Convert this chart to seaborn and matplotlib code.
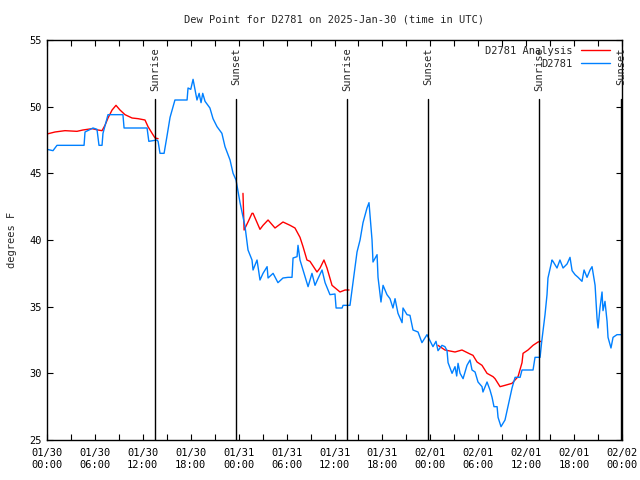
import numpy as np
import pandas as pd
import seaborn as sns
import matplotlib.pyplot as plt
import matplotlib.dates as mdates

start = pd.Timestamp("2025-01-30 00:00")

# hours since start, dew point (F) for the station
obs_hours = [0.0, 0.75, 1.25, 4.64, 4.76, 5.76, 6.26, 6.51, 6.89, 7.01, 7.64, 9.51, 9.65, 12.53,
             12.75, 13.77, 13.91, 14.15, 14.66, 15.0, 15.41, 16.02, 17.54, 17.66, 18.0, 18.29,
             18.78, 19.05, 19.29, 19.5, 19.79, 20.4, 20.79, 21.29, 21.9, 22.29, 22.92, 23.3,
             23.67, 24.17, 24.8, 25.05, 25.17, 25.67, 25.8, 26.3, 26.67, 27.05, 27.56, 27.68,
             28.31, 28.92, 29.55, 30.18, 30.68, 30.81, 31.31, 31.43, 31.68, 32.06, 32.55, 32.69,
             33.18, 33.56, 33.93, 34.44, 34.82, 35.43, 36.06, 36.2, 36.95, 37.07, 37.94, 38.19,
             38.57, 38.82, 39.2, 39.57, 40.07, 40.32, 40.7, 40.82, 41.33, 41.45, 41.82, 42.08,
             42.57, 42.95, 43.32, 43.58, 43.95, 44.46, 44.58, 45.08, 45.45, 45.83, 46.46, 46.95,
             47.58, 47.96, 48.33, 48.71, 48.96, 49.46, 49.83, 50.09, 50.22, 50.72, 51.09, 51.3,
             51.47, 51.72, 52.1, 52.59, 52.97, 53.22, 53.6, 53.97, 54.47, 54.59, 55.1, 55.47,
             55.73, 55.97, 56.36, 56.48, 56.85, 57.35, 57.72, 58.23, 58.61, 59.24, 59.48, 60.86,
             61.11, 61.74, 61.95, 62.36, 62.61, 62.73, 63.24, 63.36, 63.86, 64.23, 64.62, 65.12,
             65.49, 65.75, 66.12, 66.5, 66.99, 67.25, 67.62, 68.0, 68.25, 68.63, 68.87, 69.0,
             69.24, 69.5, 69.62, 69.87, 70.13, 70.25, 70.62, 70.88, 71.37, 72.0]
obs_dew = [46.8, 46.7, 47.1, 47.1, 48.1, 48.4, 48.3, 47.1, 47.1, 48.0, 49.4, 49.4, 48.4, 48.4,
           47.4, 47.5, 47.4, 46.5, 46.5, 47.7, 49.2, 50.5, 50.5, 51.4, 51.3, 52.05,
           50.5, 51.0, 50.3, 51.0, 50.4, 49.9, 49.1, 48.5, 48.0, 47.0, 46.0, 45.0,
           44.5, 42.8, 41.0, 39.8, 39.25, 38.5, 37.75, 38.5, 37.0, 37.5, 38.0, 37.15,
           37.5, 36.8, 37.15, 37.2, 37.2, 38.65, 38.75, 39.6, 38.5, 37.75, 36.8, 36.5,
           37.5, 36.6, 37.1, 37.75, 36.8, 35.9, 35.95, 34.9, 34.9, 35.1, 35.1, 36.25,
           38.0, 39.1, 40.0, 41.3, 42.4, 42.8, 40.0, 38.35, 38.9, 37.2, 35.35, 36.6,
           35.9, 35.6, 34.9, 35.6, 34.5, 33.8, 34.9, 34.4, 34.35, 33.25, 33.1, 32.3,
           32.9, 32.45, 32.0, 32.4, 31.7, 32.1, 32.0, 31.7, 30.8, 30.0, 30.5, 29.8,
           30.75, 30.0, 29.6, 30.6, 31.0, 30.25, 30.1, 29.35, 29.0, 28.6, 29.35, 28.75,
           28.2, 27.5, 27.5, 26.7, 26.0, 26.5, 27.5, 28.9, 29.7, 29.7, 30.25, 30.25,
           31.2, 31.2, 32.4, 34.4, 35.9, 37.15, 38.5, 38.4, 37.9, 38.5, 37.9, 38.2,
           38.7, 37.7, 37.4, 37.2, 36.9, 37.75, 37.2, 37.75, 38.0, 36.6, 34.15, 33.4,
           34.9, 36.1, 34.7, 35.4, 33.9, 32.7, 31.9, 32.7, 32.9, 32.9]

# analysis series, three pieces
ana_hours = [0.0, 1.0, 2.25, 3.75, 4.5, 5.64, 6.39, 6.89, 7.26, 7.64, 8.15, 8.64, 9.14, 9.77,
             10.65, 11.4, 12.27, 12.65, 13.16, 13.53, 13.91,
             24.54, 24.68, 25.17, 25.67, 25.8, 26.67, 27.05, 27.68, 28.55, 29.55, 30.44, 31.05,
             31.68, 32.06, 32.55, 32.93, 33.81, 34.19, 34.68, 35.06, 35.69, 36.69, 37.32, 37.82,
             48.96, 49.83, 51.09, 51.96, 52.97, 53.34, 53.85, 54.47, 55.1, 55.85, 56.1, 56.73,
             57.35, 58.23, 58.98, 59.48, 59.61, 60.23, 60.86, 61.49, 61.86]
ana_dew = [47.95, 48.1, 48.2, 48.15, 48.25, 48.35, 48.25, 48.2, 48.6, 49.15, 49.75, 50.1, 49.75, 49.4,
           49.15, 49.1, 49.0, 48.5, 48.0, 47.65, 47.6,
           43.5, 40.75, 41.35, 42.0, 42.0, 40.8, 41.1, 41.5, 40.9, 41.35, 41.1, 40.9,
           40.2, 39.5, 38.5, 38.4, 37.6, 37.9, 38.5, 37.9, 36.6, 36.1, 36.25, 36.25,
           32.1, 31.75, 31.6, 31.75, 31.45, 31.35, 30.85, 30.6, 30.0, 29.75, 29.6, 29.0,
           29.1, 29.25, 29.75, 30.8, 31.5, 31.75, 32.1, 32.35, 32.4]
ana_piece = [0] * 21 + [1] * 24 + [2] * 21

sun_hours = [13.53, 23.67, 37.56, 47.7, 61.61, 71.88]
sun_names = ["Sunrise", "Sunset", "Sunrise", "Sunset", "Sunrise", "Sunset"]

obs = pd.DataFrame({"time": start + pd.to_timedelta(obs_hours, unit="h"), "dew": obs_dew})
ana = pd.DataFrame({"time": start + pd.to_timedelta(ana_hours, unit="h"), "dew": ana_dew,
                    "piece": ana_piece})

sns.set_theme(style="ticks")
plt.rcParams["font.family"] = ["DejaVu Sans Mono"]
plt.rcParams["font.size"] = 7.5

fig = plt.figure(figsize=(6.4, 4.8), dpi=100)
ax = fig.add_axes([47 / 640, 40 / 480, 575 / 640, 400 / 480])

sns.lineplot(data=ana, x="time", y="dew", units="piece", estimator=None, color="#ff0000",
             lw=1, ax=ax, label="D2781 Analysis")
sns.lineplot(data=obs, x="time", y="dew", color="#0080ff", lw=1, ax=ax, label="D2781")

for h, name in zip(sun_hours, sun_names):
    t = start + pd.Timedelta(hours=h)
    ax.axvline(t, ymin=0, ymax=(50.6 - 25) / 30, color="black", lw=1)
    ax.text(t, 54.45, name, rotation=90, ha="center", va="top", fontsize=7.5)

ax.set_xlim(start, start + pd.Timedelta(hours=72))
ax.set_ylim(25, 55)
ax.set_yticks(np.arange(25, 56, 5))
ax.xaxis.set_major_locator(mdates.HourLocator(byhour=range(0, 24, 6)))
ax.xaxis.set_major_formatter(mdates.DateFormatter("%m/%d\n%H:%M"))
ax.xaxis.set_minor_locator(mdates.HourLocator(byhour=range(0, 24, 3)))
ax.tick_params(which="both", direction="in", top=True, right=True, length=4, width=0.8,
               labelsize=7.5, colors="black")
ax.tick_params(axis="x", pad=6)
for s in ax.spines.values():
    s.set_linewidth(1)
    s.set_color("black")

ax.set_xlabel("")
ax.set_ylabel("degrees F", fontsize=7.5)
ax.yaxis.set_label_coords(-0.052, 0.5)
fig.text(334 / 640, 1 - 20 / 480, "Dew Point for D2781 on 2025-Jan-30 (time in UTC)",
         ha="center", va="center", fontsize=7.5)

handles, labels = ax.get_legend_handles_labels()
uniq = dict(zip(labels, handles))
ax.legend(uniq.values(), uniq.keys(), loc="upper right", bbox_to_anchor=(0.979, 0.985),
          frameon=False, markerfirst=False, handlelength=2.8, borderpad=0, borderaxespad=0,
          labelspacing=0.3, handletextpad=0.8, fontsize=7.5)

fig.savefig("out.png", dpi=100)
